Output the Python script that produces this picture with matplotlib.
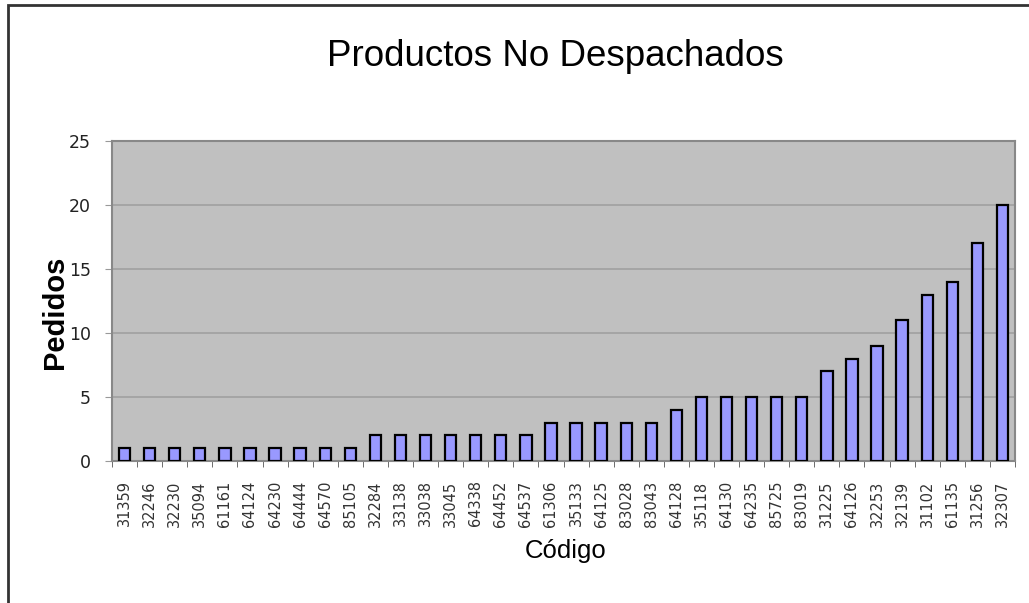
import numpy as np
import matplotlib.pyplot as plt
from matplotlib.patches import Rectangle

# pedidos no despachados por código de producto
codigos = ['31359', '32246', '32230', '35094', '61161', '64124', '64230',
           '64444', '64570', '85105', '32284', '33138', '33038', '33045',
           '64338', '64452', '64537', '61306', '35133', '64125', '83028',
           '83043', '64128', '35118', '64130', '64235', '85725', '83019',
           '31225', '64126', '32253', '32139', '31102', '61135', '31256',
           '32307']
pedidos = [1, 1, 1, 1, 1, 1, 1, 1, 1, 1,
           2, 2, 2, 2, 2, 2, 2,
           3, 3, 3, 3, 3,
           4,
           5, 5, 5, 5, 5,
           7, 8, 9, 11, 13, 14, 17, 20]

plt.rcParams['font.family'] = ['Liberation Sans', 'DejaVu Sans']

fig = plt.figure(figsize=(10.29, 6.03), dpi=100)
ax = fig.add_axes([112/1029, 1 - 461/603, (1015-112)/1029, (461-141)/603])

# marco exterior del gráfico
fig.patches.append(Rectangle((8/1029, -0.05), 1.1, 1 - 5/603 + 0.05,
                             transform=fig.transFigure, fill=False,
                             edgecolor='#333333', linewidth=2))

x = np.arange(len(codigos))
ax.set_facecolor('#c0c0c0')
ax.bar(x, pedidos, width=0.45, color='#9999ff', edgecolor='black',
       linewidth=1.6, zorder=3)

ax.set_xlim(-0.5, len(codigos) - 0.5)
ax.set_ylim(0, 25)
ax.set_yticks([0, 5, 10, 15, 20, 25])
ax.yaxis.grid(True, color='#a0a0a0', linewidth=1.2, zorder=0)

ax.set_xticks(x)
ax.set_xticklabels(codigos, rotation=90, fontsize=10.5, color='#333333',
                   family=['Liberation Sans Narrow', 'DejaVu Sans'])
ax.tick_params(axis='x', length=0, pad=14)
ax.set_xticks(np.arange(-0.5, len(codigos), 1), minor=True)
ax.tick_params(axis='x', which='minor', length=4, color='#555555')
ax.tick_params(axis='y', length=5, color='#999999', labelsize=12.5, pad=10,
               labelcolor='#222222')
for yl in ax.get_yticklabels():
    yl.set_family(['Liberation Sans Narrow', 'DejaVu Sans'])

for s in ax.spines.values():
    s.set_color('#888888')
    s.set_linewidth(1.5)

fig.text(555/1029, 1 - 56/603, 'Productos No Despachados', ha='center',
         va='center', fontsize=26.5, path_effects=None)
fig.text(55/1029, 1 - 312/603, 'Pedidos', ha='center', va='center',
         rotation=90, fontsize=21, fontweight='bold')
fig.text(566/1029, 1 - 551/603, 'Código', ha='center', va='center',
         fontsize=18.5)

fig.savefig('out.png', dpi=100)
